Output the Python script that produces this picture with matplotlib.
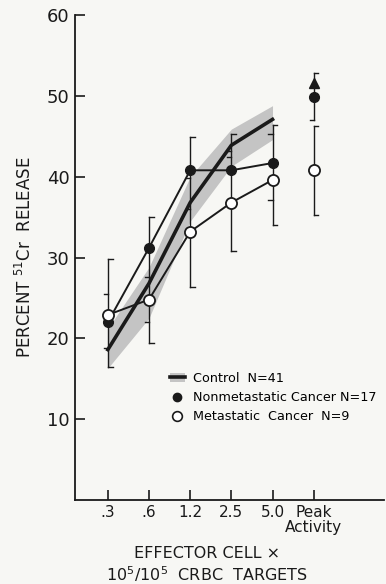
import matplotlib.pyplot as plt
from matplotlib.lines import Line2D
from matplotlib.patches import Patch

plt.rcParams['font.family'] = ['DejaVu Sans']
plt.rcParams['mathtext.default'] = 'regular'

categories = ['.3', '.6', '1.2', '2.5', '5.0', 'Peak\nActivity']

# percent 51Cr release at each effector:target ratio
control = [18.6, 26.8, 36.8, 43.9, 47.1]
control_lo = [16.3, 22.5, 34.5, 41.3, 44.6]
control_hi = [21.2, 28.8, 40.0, 45.9, 48.8]
nonmet = [22.0, 31.2, 40.8, 40.8, 41.7]
met = [22.9, 24.8, 33.2, 36.8, 39.6]

# bracket ends of the error bars on the curves
err_hi = [29.8, 35.0, 44.9, 45.3, 46.4]
err_lo = [16.4, 19.4, 26.4, 30.8, 34.0]
# short inner ticks
tick_a = [25.5, 27.6, 39.8, 42.4, 45.3]
tick_b = [18.8, 22.0, 36.0, 43.2, 37.1]

# peak activity column
peak_nonmet, peak_nonmet_lo, peak_nonmet_hi = 49.9, 47.0, 52.8
peak_control = 51.6
peak_met, peak_met_lo, peak_met_hi = 40.8, 35.3, 46.3

ink = '#1a1a1a'
bg = '#f7f7f4'
band = '#c4c4c4'

fig = plt.figure(figsize=(3.86, 5.84), dpi=100, facecolor=bg)
ax = fig.add_axes([0.194, 0.144, 0.80, 0.830], facecolor=bg)

x = list(range(len(control)))
xp = len(control)

# error brackets
for i in x:
    ax.plot([i, i], [err_lo[i], err_hi[i]], color=ink, lw=1.0, zorder=2)
    ax.plot([i, i + 0.12], [err_hi[i], err_hi[i]], color=ink, lw=1.0, zorder=2)
    ax.plot([i, i + 0.12], [err_lo[i], err_lo[i]], color=ink, lw=1.0, zorder=2)
    ax.plot([i - 0.1, i], [tick_a[i], tick_a[i]], color=ink, lw=1.0, zorder=2)
    ax.plot([i - 0.1, i], [tick_b[i], tick_b[i]], color=ink, lw=1.0, zorder=2)

ax.plot([xp, xp], [peak_nonmet_lo, peak_nonmet_hi], color=ink, lw=1.0)
ax.plot([xp, xp + 0.1], [peak_nonmet_hi, peak_nonmet_hi], color=ink, lw=1.0)
ax.plot([xp - 0.1, xp], [peak_nonmet_lo, peak_nonmet_lo], color=ink, lw=1.0)
ax.plot([xp, xp], [peak_met_lo, peak_met_hi], color=ink, lw=1.0)
ax.plot([xp, xp + 0.1], [peak_met_hi, peak_met_hi], color=ink, lw=1.0)
ax.plot([xp, xp + 0.1], [peak_met_lo, peak_met_lo], color=ink, lw=1.0)

# control band and line
ax.fill_between(x, control_lo, control_hi, color=band, lw=0, zorder=1)
ax.plot(x, control, color=ink, lw=2.6, zorder=3)
ax.plot(xp, peak_control, marker='^', color=ink, ms=7, zorder=4)

ax.plot(x, nonmet, color=ink, lw=1.4, marker='o', ms=7, mfc=ink, mec=ink, zorder=4)
ax.plot(x, met, color=ink, lw=1.4, marker='o', ms=8, mfc='white', mec=ink, mew=1.3, zorder=5)
ax.plot(xp, peak_nonmet, marker='o', ms=7, color=ink, zorder=4)
ax.plot(xp, peak_met, marker='o', ms=8, mfc='white', mec=ink, mew=1.3, zorder=5)

ax.set_xlim(-0.8, 6.7)
ax.set_ylim(0, 60)
ax.set_yticks([10, 20, 30, 40, 50, 60])
ax.set_xticks(range(len(categories)))
ax.set_xticklabels(categories, fontsize=11, color=ink, linespacing=0.95)
ax.tick_params(axis='both', direction='in', color=ink, width=1.2, length=7, labelcolor=ink)
ax.tick_params(axis='y', labelsize=13, pad=4)
ax.tick_params(axis='x', pad=4)
for s in ['top', 'right']:
    ax.spines[s].set_visible(False)
for s in ['left', 'bottom']:
    ax.spines[s].set_color(ink)
    ax.spines[s].set_linewidth(1.3)

ax.set_ylabel(r'PERCENT $^{51}$Cr  RELEASE', fontsize=12, color=ink, labelpad=8)
fig.text(207 / 386, 1 - 553 / 584, 'EFFECTOR CELL \u00d7', fontsize=11.5, color=ink,
         ha='center', va='center')
fig.text(207 / 386, 1 - 574 / 584, '10$^5$/10$^5$  CRBC  TARGETS', fontsize=11.5,
         color=ink, ha='center', va='center')

handles = [
    (Patch(facecolor=band, edgecolor='none'), Line2D([], [], color=ink, lw=2.6)),
    Line2D([], [], ls='none', marker='o', ms=6, color=ink),
    Line2D([], [], ls='none', marker='o', ms=7, mfc='white', mec=ink, mew=1.2),
]
labels = ['Control  N=41', 'Nonmetastatic Cancer N=17', 'Metastatic  Cancer  N=9']
leg = ax.legend(handles, labels, loc='upper left', bbox_to_anchor=(0.29, 0.275),
                frameon=False, fontsize=9.2, handlelength=1.2, handletextpad=0.6,
                labelspacing=0.5, borderaxespad=0)

fig.savefig('out.png', dpi=100, facecolor=bg)
